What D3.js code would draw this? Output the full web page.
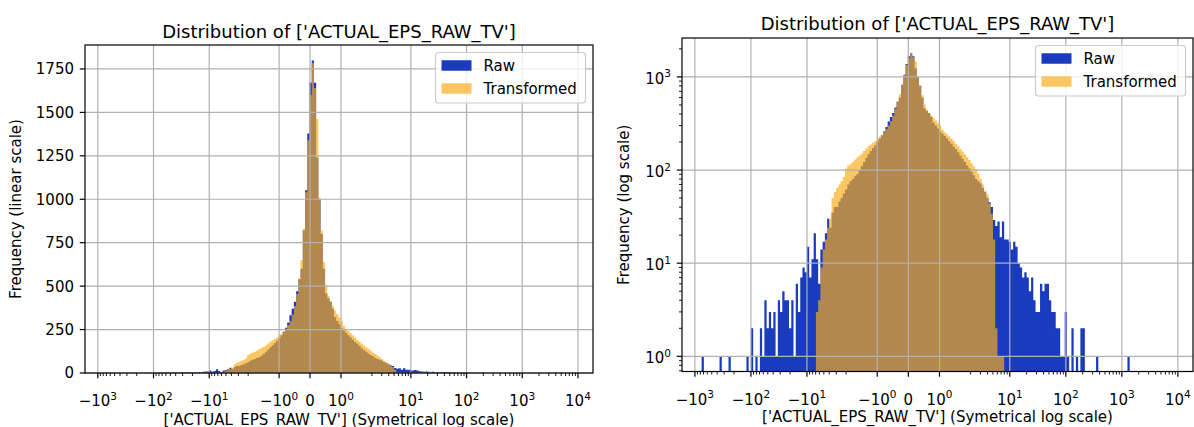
<!DOCTYPE html>
<html>
<head>
<meta charset="utf-8">
<script src="https://cdn.jsdelivr.net/npm/d3@7"></script>
<style>
body { margin: 0; background: #fff; }
svg { display: block; }
text { font-family: "DejaVu Sans", sans-serif; fill: #000; }
</style>
</head>
<body>
<div id="chart"></div>
<script>
// ----------------------------------------------------------
// DATA -----------------------------------------------------
// ----------------------------------------------------------
// histogram bins are equal steps on the symlog axis
var binStart = -3.69;
var binWidth = 0.04;
// counts per bin, Raw starts at bin 0
var rawCounts = [
1,0,0,0,0,0,0,0,1,0,
0,0,1,0,0,0,0,0,0,0,
1,0,2,0,1,0,2,1,4,2,
3,2,3,1,4,3,5,4,4,2,
4,1,6,3,7,9,8,15,7,11,
21,11,6,14,17,21,30,24,35,40,
40,46,50,56,62,70,76,80,86,90,
100,110,122,135,148,160,172,185,200,218,
237,260,290,333,370,410,470,540,600,822,
1052,1379,1670,1798,1670,1240,1000,800,600,458,
430,410,370,322,300,280,258,245,232,218,
205,192,178,168,155,142,132,122,112,104,
96,88,80,76,72,64,58,50,45,40,
29,25,28,19,28,18,18,17,14,17,
15,10,9,7,8,7,5,7,4,3,
3,6,5,6,6,4,3,3,2,2,
1,1,3,1,0,2,0,1,0,2,
2,0,0,0,0,0,1,0,0,0,
0,0,0,0,0,0,0,0,0,0,1
];
// Transformed starts at bin 51
var transformedFirstBin = 51;
var transformedCounts = [
3,4,9,14,18,24,30,50,58,64,
70,76,84,104,112,116,122,130,136,142,
150,160,170,180,188,196,205,215,228,240,
255,275,300,335,385,455,545,650,830,1040,
1340,1600,1785,1640,1460,1010,820,640,505,445,
410,385,360,340,320,300,270,255,242,230,
218,205,192,180,168,158,148,138,128,118,
110,102,92,80,70,60,55,44,34,18,
2,1,1,1
];
var seriesNames = ["Raw", "Transformed"];
var xTickValues = [-1000, -100, -10, -1, 0, 1, 10, 100, 1000, 10000];
var xTickLabels = [["\u221210","3"],["\u221210","2"],["\u221210","1"],["\u221210","0"],["0",""],
                   ["10","0"],["10","1"],["10","2"],["10","3"],["10","4"]];
var yTicksLinear = [0, 250, 500, 750, 1000, 1250, 1500, 1750];
var yTicksLog = [1, 10, 100, 1000];
var yTickLogLabels = [["10","0"],["10","1"],["10","2"],["10","3"]];
var titleText = "Distribution of ['ACTUAL_EPS_RAW_TV']";
var xLabelText = "['ACTUAL_EPS_RAW_TV'] (Symetrical log scale)";

// ----------------------------------------------------------
// STYLE ----------------------------------------------------
// ----------------------------------------------------------
var color_raw = "rgb(26,59,190)";
var color_transformed = "rgb(250,172,25)";
var opacity_transformed = 0.68;
var color_grid = "#b0b0b0";

// symlog like matplotlib, linthresh 2, linscale 1 (in decade units)
var linthresh = 2;
var linscaleAdj = 1 / (1 - 1 / 10);
function symlog(v) {
  var a = Math.abs(v);
  if (a <= linthresh) return v * linscaleAdj / linthresh;
  return Math.sign(v) * (linscaleAdj + Math.log10(a / linthresh));
}
var xDomain = [-4.04, 5.08];

// y limits with 5% margins like matplotlib
var linTop = d3.max(rawCounts) * 1.05;
var logHi = Math.log10(d3.max(rawCounts));
var logDomain = [Math.pow(10, -0.05 * logHi), Math.pow(10, 1.05 * logHi)];

var panels = [
  {x0: 85, x1: 593, y0: 45, y1: 373, yType: "linear", yLabel: "Frequency (linear scale)", yLabelX: 21, titleY: 38, xLabelY: 424.5},
  {x0: 682, x1: 1193, y0: 38, y1: 371.5, yType: "log", yLabel: "Frequency (log scale)", yLabelX: 629, titleY: 30, xLabelY: 421.5}
];

// minor x ticks at 2..9 x 10^k
var xMinor = [];
[1, 10, 100, 1000].forEach(function(p) {
  for (var m = 2; m <= 9; m++) { xMinor.push(m * p); xMinor.push(-m * p); }
});
// minor y ticks for the log panel
var yMinor = [];
[0.1, 1, 10, 100, 1000].forEach(function(p) {
  for (var m = 2; m <= 9; m++) yMinor.push(m * p);
});

var svg = d3.select("#chart").append("svg")
  .attr("width", 1194)
  .attr("height", 427);

function addPower(sel, base, exp) {
  sel.append("tspan").text(base);
  if (exp !== "") {
    sel.append("tspan").attr("dy", -6.5).attr("font-size", 10.5).text(exp);
  }
}

function drawPanel(p) {
  var x = d3.scaleLinear().domain(xDomain).range([p.x0, p.x1]);
  var y = p.yType === "log"
    ? d3.scaleLog().domain(logDomain).range([p.y1, p.y0])
    : d3.scaleLinear().domain([0, linTop]).range([p.y1, p.y0]);
  var g = svg.append("g");

  // bars, one path per series so neighbours show no seams
  function barPath(counts, first) {
    var d = "";
    counts.forEach(function(c, i) {
      if (c <= 0) return;
      var t0 = binStart + (first + i) * binWidth;
      var xa = x(t0), xb = x(t0 + binWidth), yt = y(c);
      d += "M" + xa + "," + p.y1 + "V" + yt + "H" + xb + "V" + p.y1 + "Z";
    });
    return d;
  }
  g.append("path").attr("d", barPath(rawCounts, 0)).attr("fill", color_raw);
  g.append("path").attr("d", barPath(transformedCounts, transformedFirstBin))
    .attr("fill", color_transformed).attr("fill-opacity", opacity_transformed);

  // grid
  var yMajor = p.yType === "log" ? yTicksLog : yTicksLinear;
  g.selectAll(null).data(xTickValues).enter().append("line")
    .attr("x1", function(d) { return x(symlog(d)); })
    .attr("x2", function(d) { return x(symlog(d)); })
    .attr("y1", p.y0).attr("y2", p.y1)
    .attr("stroke", color_grid).attr("stroke-width", 1.2);
  g.selectAll(null).data(yMajor).enter().append("line")
    .attr("x1", p.x0).attr("x2", p.x1)
    .attr("y1", function(d) { return y(d); })
    .attr("y2", function(d) { return y(d); })
    .attr("stroke", color_grid).attr("stroke-width", 1.2);

  // frame
  g.append("rect")
    .attr("x", p.x0).attr("y", p.y0)
    .attr("width", p.x1 - p.x0).attr("height", p.y1 - p.y0)
    .attr("fill", "none").attr("stroke", "#000").attr("stroke-width", 1.2);

  // x ticks
  g.selectAll(null).data(xTickValues).enter().append("line")
    .attr("x1", function(d) { return x(symlog(d)); })
    .attr("x2", function(d) { return x(symlog(d)); })
    .attr("y1", p.y1).attr("y2", p.y1 + 5.25)
    .attr("stroke", "#000").attr("stroke-width", 1.2);
  g.selectAll(null).data(xMinor.filter(function(d) {
      var t = symlog(d); return t > xDomain[0] && t < xDomain[1]; }))
    .enter().append("line")
    .attr("x1", function(d) { return x(symlog(d)); })
    .attr("x2", function(d) { return x(symlog(d)); })
    .attr("y1", p.y1).attr("y2", p.y1 + 3)
    .attr("stroke", "#000").attr("stroke-width", 0.9);
  xTickValues.forEach(function(v, i) {
    var t = g.append("text")
      .attr("x", x(symlog(v)))
      .attr("y", p.y1 + 33)
      .attr("text-anchor", "middle")
      .attr("font-size", 15);
    addPower(t, xTickLabels[i][0], xTickLabels[i][1]);
  });

  // y ticks
  g.selectAll(null).data(yMajor).enter().append("line")
    .attr("x1", p.x0 - 5.25).attr("x2", p.x0)
    .attr("y1", function(d) { return y(d); })
    .attr("y2", function(d) { return y(d); })
    .attr("stroke", "#000").attr("stroke-width", 1.2);
  if (p.yType === "log") {
    g.selectAll(null).data(yMinor.filter(function(d) {
        return d > logDomain[0] && d < logDomain[1]; }))
      .enter().append("line")
      .attr("x1", p.x0 - 3).attr("x2", p.x0)
      .attr("y1", function(d) { return y(d); })
      .attr("y2", function(d) { return y(d); })
      .attr("stroke", "#000").attr("stroke-width", 0.9);
    yTicksLog.forEach(function(v, i) {
      var t = g.append("text")
        .attr("x", p.x0 - 11)
        .attr("y", y(v) + 7)
        .attr("text-anchor", "end")
        .attr("font-size", 15);
      addPower(t, yTickLogLabels[i][0], yTickLogLabels[i][1]);
    });
  } else {
    g.selectAll(null).data(yTicksLinear).enter().append("text")
      .attr("x", p.x0 - 11)
      .attr("y", function(d) { return y(d); })
      .attr("dy", "0.36em")
      .attr("text-anchor", "end")
      .attr("font-size", 15)
      .text(function(d) { return d; });
  }

  // labels
  g.append("text")
    .attr("x", (p.x0 + p.x1) / 2).attr("y", p.titleY)
    .attr("text-anchor", "middle").attr("font-size", 18)
    .text(titleText);
  g.append("text")
    .attr("x", (p.x0 + p.x1) / 2).attr("y", p.xLabelY)
    .attr("text-anchor", "middle").attr("font-size", 15)
    .text(xLabelText);
  g.append("text")
    .attr("transform", "translate(" + p.yLabelX + "," + ((p.y0 + p.y1) / 2) + ")rotate(-90)")
    .attr("text-anchor", "middle").attr("font-size", 15)
    .text(p.yLabel);

  // legend
  var lw = 150, lh = 50.5;
  var lx = p.x1 - 7.5 - lw, ly = p.y0 + 7.5;
  var lg = g.append("g");
  lg.append("rect")
    .attr("x", lx).attr("y", ly).attr("width", lw).attr("height", lh)
    .attr("rx", 3).attr("fill", "#fff").attr("fill-opacity", 0.8)
    .attr("stroke", "#cccccc").attr("stroke-width", 1.2);
  seriesNames.forEach(function(name, i) {
    var cy = ly + 13 + i * 23;
    lg.append("rect")
      .attr("x", lx + 6).attr("y", cy - 5.25)
      .attr("width", 30).attr("height", 10.5)
      .attr("fill", i === 0 ? color_raw : color_transformed)
      .attr("fill-opacity", i === 0 ? 1 : opacity_transformed);
    lg.append("text")
      .attr("x", lx + 48).attr("y", cy).attr("dy", "0.36em")
      .attr("font-size", 15)
      .text(name);
  });
}

panels.forEach(drawPanel);
</script>
</body>
</html>
